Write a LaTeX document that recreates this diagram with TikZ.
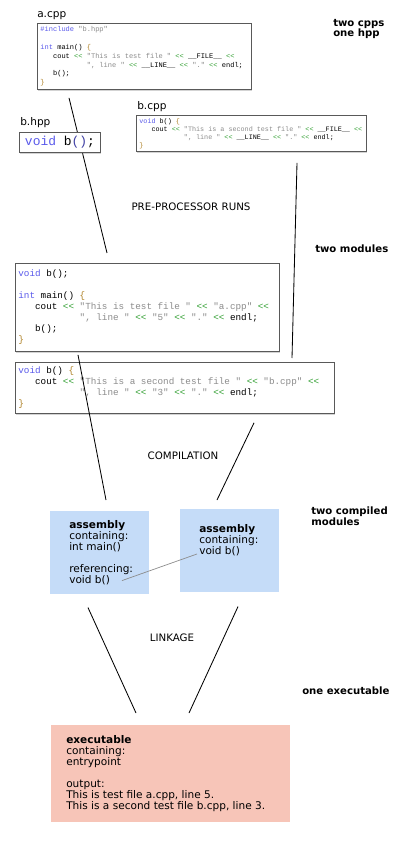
\documentclass[tikz,border=0pt]{standalone}
\usepackage{fontspec}
\setmainfont{DejaVu Sans}
\setmonofont{Liberation Mono}
\usepackage{xcolor}
\usepackage{tikz}
\usetikzlibrary{shadows}

\definecolor{kwblue}{RGB}{90,90,235}
\definecolor{strgray}{RGB}{140,140,140}
\definecolor{opgreen}{RGB}{50,160,50}
\definecolor{bracebrown}{RGB}{175,130,40}
\definecolor{asmblue}{RGB}{197,220,248}
\definecolor{exesalmon}{RGB}{247,197,184}

\newcommand{\kw}[1]{\textcolor{kwblue}{#1}}
\newcommand{\strg}[1]{\textcolor{strgray}{#1}}
\newcommand{\brc}[1]{\textcolor{bracebrown}{#1}}
\newcommand{\shl}{\textcolor{opgreen}{<{}<}}
\newcommand{\indA}{\hphantom{xxx}}
\newcommand{\indB}{\hphantom{xxxxxxxxxxx}}
% mono code at a given size
\newcommand{\codefont}[2]{\ttfamily\fontsize{#1}{#2}\selectfont}

\begin{document}
\begin{tikzpicture}[
  x=0.025cm, y=-0.025cm,
  codebox/.style={rectangle, draw=black!65, fill=white, line width=0.6pt,
                  drop shadow={shadow xshift=0.6pt, shadow yshift=-0.8pt, opacity=0.35},
                  anchor=north west, inner xsep=0.075cm, inner ysep=1pt, align=flush left,
                  execute at begin node={\spaceskip=0.6em\xspaceskip=0.6em\relax}},
  fname/.style={anchor=base west, inner sep=0pt, font=\fontsize{7.5}{9}\selectfont},
  note/.style={anchor=base west, inner sep=0pt, align=left,
               font=\fontsize{7.2}{7.6}\selectfont\bfseries},
  phase/.style={anchor=base, inner sep=0pt, font=\fontsize{7.3}{9}\selectfont},
  objbox/.style={rectangle, anchor=north west, inner sep=0pt},
  objtext/.style={anchor=north west, inner sep=0pt, align=left,
                  font=\fontsize{7.5}{7.8}\selectfont},
  link/.style={black, line width=0.6pt},
  ref/.style={black!45, line width=0.5pt}
]
\useasboundingbox (0,0) rectangle (400,845);

%% Source files
\node[fname] (acppname) at (37,18) {a.cpp};
\node[codebox, text width=5.2cm, minimum height=1.65cm,
      font=\codefont{5}{6.3}] (acpp) at (37,23) {%
\kw{\#include} \strg{"b.hpp"}\\[\baselineskip]
\kw{int} main() \brc{\{}\\
\indA cout \shl{} \strg{"This is test file "} \shl{} \_\_FILE\_\_ \shl\\
\indB\strg{", line "} \shl{} \_\_LINE\_\_ \shl{} \strg{"."} \shl{} endl;\\
\indA b();\\
\brc{\}}};

\node[fname] (bhppname) at (20,126) {b.hpp};
\node[fname] (bcppname) at (137,110) {b.cpp};
\node[codebox, text width=5.6cm, minimum height=0.9cm,
      font=\codefont{4.8}{5.7}] (bcpp) at (136,115) {%
\kw{void} b() \brc{\{}\\
\indA cout \shl{} \strg{"This is a second test file "} \shl{} \_\_FILE\_\_ \shl\\
\indB\strg{", line "} \shl{} \_\_LINE\_\_ \shl{} \strg{"."} \shl{} endl;\\
\brc{\}}};

%% Preprocessed modules
\node[codebox, text width=6.45cm, minimum height=2.2cm,
      font=\codefont{6.6}{7.8}] (pp1) at (15,263) {%
\kw{void} b();\\[\baselineskip]
\kw{int} main() \brc{\{}\\
\indA cout \shl{} \strg{"This is test file "} \shl{} \strg{"a.cpp"} \shl\\
\indB\strg{", line "} \shl{} \strg{"5"} \shl{} \strg{"."} \shl{} endl;\\
\indA b();\\
\brc{\}}};
\node[codebox, text width=7.825cm, minimum height=1.275cm,
      font=\codefont{6.6}{7.8}] (pp2) at (15,362) {%
\kw{void} b() \brc{\{}\\
\indA cout \shl{} \strg{"This is a second test file "} \shl{} \strg{"b.cpp"} \shl\\
\indB\strg{", line "} \shl{} \strg{"3"} \shl{} \strg{"."} \shl{} endl;\\
\brc{\}}};

%% Compiled objects and executable
\node[objbox, fill=asmblue, minimum width=2.475cm, minimum height=2.075cm] (asmA) at (50,511) {};
\node[objbox, fill=asmblue, minimum width=2.475cm, minimum height=2.075cm] (asmB) at (180,509) {};
\node[objbox, fill=exesalmon, minimum width=5.975cm, minimum height=2.425cm] (exe) at (51,725) {};
\node[objtext] (asmAtxt) at ([shift={(19,9)}]asmA.north west)
  {\textbf{assembly}\\ containing:\\ int main()\\[\baselineskip] referencing:\\ void b()};
\node[objtext] (asmBtxt) at ([shift={(19,15)}]asmB.north west)
  {\textbf{assembly}\\ containing:\\ void b()};
\node[objtext] (exetxt) at ([shift={(15,10)}]exe.north west)
  {\textbf{executable}\\ containing:\\ entrypoint\\[\baselineskip] output:\\
   This is test file a.cpp, line 5.\\ This is a second test file b.cpp, line 3.};

%% Phase captions and side notes
\node[phase] (pre) at (191,211) {PRE-PROCESSOR RUNS};
\node[phase] (comp) at (183,459) {COMPILATION};
\node[phase] (link) at (172,641) {LINKAGE};
\node[note] (n1) at (333,37) {two cpps\\one hpp};
\node[note] (n2) at (315,253) {two modules};
\node[note] (n3) at (311,525) {two compiled\\modules};
\node[note] (n4) at (302,694) {one executable};

%% Connectors
\draw[link] ([shift={(32,8)}]acpp.south west) -- ([shift={(92,-10)}]pp1.north west);
\draw[link] ([shift={(161,11)}]bcpp.south west) -- ([shift={(277,-4)}]pp2.north west);
\draw[link] ([shift={(63,3)}]pp1.south west) -- ([shift={(56,-11)}]asmA.north west);
\draw[link] ([shift={(239,9)}]pp2.south west) -- ([shift={(37,-9)}]asmB.north west);
\draw[link] ([shift={(38,13)}]asmA.south west) -- ([shift={(85,-12)}]exe.north west);
\draw[link] ([shift={(58,14)}]asmB.south west) -- ([shift={(138,-12)}]exe.north west);
\draw[ref] ([shift={(72,-14)}]asmA.south west) -- ([shift={(17,45)}]asmB.north west);

%% Header file box sits over the first connector
\node[codebox, minimum width=2.025cm, minimum height=0.5cm,
      font=\codefont{9.2}{10}] (bhpp) at (19,132)
  {\kw{void} b\textcolor{kwblue!70!black}{()};};
\end{tikzpicture}
\end{document}
